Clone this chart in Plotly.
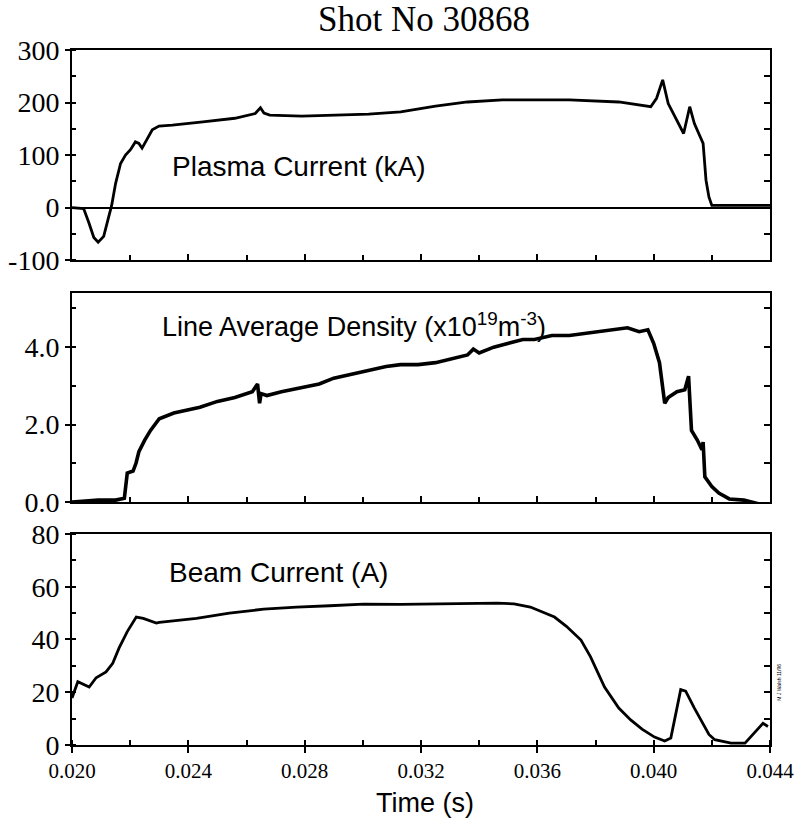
import plotly.graph_objects as go

# ---------------- data ----------------
t_ip = [0.0200, 0.0204, 0.02058, 0.02075, 0.0209, 0.02109, 0.02127, 0.02136, 0.0215, 0.02167,
        0.02184, 0.02201, 0.02218, 0.0223, 0.02241, 0.02253, 0.02276, 0.02299, 0.02345, 0.0245,
        0.0256, 0.0263, 0.02648, 0.0266, 0.0268, 0.0279, 0.0290, 0.0302, 0.0313, 0.0325,
        0.0336, 0.0348, 0.0360, 0.0371, 0.0388, 0.0399, 0.0401, 0.04031, 0.0405, 0.0408,
        0.04103, 0.04124, 0.0414, 0.0417, 0.0418, 0.0419, 0.0420, 0.0440]
ip = [0, -2, -29, -57, -66, -55, -16, 3, 46, 84,
      100, 110, 125, 122, 113, 125, 148, 155, 157, 163,
      170, 179, 190, 180, 176, 174, 176, 178, 182, 193,
      201, 205, 205, 205, 201, 192, 208, 243, 198, 165,
      141, 192, 160, 122, 52, 20, 4, 4]

t_ne = [0.0200, 0.0209, 0.0215, 0.0218, 0.0219, 0.0221, 0.0222, 0.0223, 0.0225, 0.0227,
        0.0230, 0.0235, 0.0244, 0.0250, 0.0256, 0.0262, 0.02638, 0.02645, 0.0265, 0.0267,
        0.0272, 0.0279, 0.0285, 0.0290, 0.0296, 0.0302, 0.0308, 0.0313, 0.0319, 0.0325,
        0.0330, 0.0336, 0.0338, 0.0340, 0.0345, 0.0350, 0.0355, 0.0359, 0.0365, 0.0371,
        0.0376, 0.0382, 0.0387, 0.0391, 0.0395, 0.0398, 0.0400, 0.0402, 0.04038, 0.0405,
        0.0408, 0.04107, 0.0412, 0.0413, 0.0415, 0.04166, 0.0417, 0.04176, 0.0420, 0.04224,
        0.0426, 0.0431, 0.0440]
ne = [0.0, 0.05, 0.05, 0.1, 0.75, 0.8, 1.0, 1.3, 1.6, 1.85,
      2.15, 2.3, 2.45, 2.6, 2.7, 2.85, 3.05, 2.55, 2.8, 2.75,
      2.85, 2.95, 3.05, 3.2, 3.3, 3.4, 3.5, 3.55, 3.55, 3.6,
      3.7, 3.8, 3.95, 3.85, 4.0, 4.1, 4.2, 4.2, 4.3, 4.3,
      4.35, 4.4, 4.45, 4.5, 4.4, 4.45, 4.1, 3.6, 2.55, 2.7,
      2.85, 2.9, 3.25, 1.85, 1.6, 1.35, 1.55, 0.65, 0.4, 0.23,
      0.08, 0.05, -0.12]

t_b = [0.0200, 0.0202, 0.02059, 0.02083, 0.02117, 0.0214, 0.02162, 0.0219, 0.02221, 0.02245,
       0.0229, 0.0230, 0.02428, 0.02541, 0.02659, 0.02772, 0.02886, 0.03003, 0.0313, 0.0330,
       0.03462, 0.0352, 0.03576, 0.03659, 0.0370, 0.0375, 0.03783, 0.0381, 0.03831, 0.0388,
       0.03921, 0.0396, 0.04003, 0.04038, 0.04059, 0.04093, 0.0411, 0.0414, 0.04162, 0.0419,
       0.0421, 0.04266, 0.04314, 0.04376, 0.04393]
beam = [17.8, 24, 22, 25.5, 27.7, 31, 36.8, 43, 48.5, 48,
        46.2, 46.5, 48, 50, 51.5, 52.3, 52.8, 53.4, 53.3, 53.5,
        53.8, 53.5, 52.3, 48.5, 45, 39.8, 33.4, 27, 22, 14,
        9.5, 6, 3.0, 1.5, 2.6, 21, 20.4, 14, 9.5, 4,
        2, 0.7, 0.7, 8.2, 7]

x_tickvals = [0.020, 0.024, 0.028, 0.032, 0.036, 0.040, 0.044]
x_ticktext = ["0.020", "0.024", "0.028", "0.032", "0.036", "0.040", "0.044"]
ip_tickvals = [-100, 0, 100, 200, 300]
ip_ticktext = ["-100", "0", "100", "200", "300"]
ne_tickvals = [0, 2, 4]
ne_ticktext = ["0.0", "2.0", "4.0"]
b_tickvals = [0, 20, 40, 60, 80]
b_ticktext = ["0", "20", "40", "60", "80"]

title_text = "Shot No 30868"
label_ip = "Plasma Current (kA)"
label_ne = "Line Average Density (x10<sup>19</sup>m<sup>-3</sup>)"
label_b = "Beam Current (A)"
x_title = "Time (s)"
credit = "M J Walsh 11/96"

# ---------------- figure ----------------
SERIF = "Liberation Serif, Times New Roman, serif"
SANS = "Liberation Sans, Arial, Helvetica, sans-serif"
LINE = dict(color="black", width=2.8)

fig = go.Figure()
fig.add_trace(go.Scatter(x=t_ip, y=ip, mode="lines", line=LINE, xaxis="x", yaxis="y",
                         showlegend=False))
fig.add_trace(go.Scatter(x=t_ne, y=ne, mode="lines", line=dict(color="black", width=3.6),
                         xaxis="x2", yaxis="y2", showlegend=False))
fig.add_trace(go.Scatter(x=t_b, y=beam, mode="lines", line=LINE, xaxis="x3", yaxis="y3",
                         showlegend=False))
# empty traces so the right-hand (inward tick) axes are drawn
for ya, xa in (("y4", "x"), ("y5", "x2"), ("y6", "x3")):
    fig.add_trace(go.Scatter(x=[], y=[], xaxis=xa, yaxis=ya, showlegend=False, hoverinfo="skip"))

doms = {"top": [0.6978, 1.0], "mid": [0.3496, 0.6504], "bot": [0.0, 0.3036]}

def xax(anchor, labels):
    d = dict(domain=[0, 1], range=[0.020, 0.044], anchor=anchor, automargin=False,
             showline=True, linecolor="black", linewidth=2,
             mirror=True, showgrid=False, zeroline=False,
             tickmode="array", tickvals=x_tickvals, ticklen=6, tickwidth=2, tickcolor="black",
             minor=dict(dtick=0.002, tick0=0.020, ticks="inside", ticklen=5, tickwidth=2,
                        tickcolor="black"))
    if labels:
        d.update(ticks="outside", ticktext=x_ticktext, showticklabels=True,
                 tickfont=dict(family=SERIF, size=21, color="black"))
    else:
        d.update(ticks="inside", showticklabels=False)
    return d

def yax(anchor, dom, rng, tv, tt, minor_dt, zl=False):
    return dict(domain=dom, range=rng, anchor=anchor, automargin=False,
                showline=True, linecolor="black", linewidth=2,
                mirror=True, showgrid=False, zeroline=zl, zerolinecolor="black", zerolinewidth=2,
                tickmode="array", tickvals=tv, ticktext=tt, ticks="outside", ticklen=5, tickwidth=2,
                tickcolor="black", tickfont=dict(family=SERIF, size=28, color="black"),
                minor=dict(dtick=minor_dt, tick0=0, ticks="inside", ticklen=4, tickwidth=1.5,
                           tickcolor="black"))

def yright(over, anchor, rng, dt):
    return dict(overlaying=over, anchor=anchor, side="right", range=rng, automargin=False,
                showline=False, showgrid=False, zeroline=False, showticklabels=False,
                ticks="inside", ticklen=6, tickwidth=2, tickcolor="black",
                tickmode="linear", dtick=dt, tick0=0)

fig.update_layout(
    width=797, height=823,
    margin=dict(l=72, r=27, t=50, b=78),
    paper_bgcolor="white", plot_bgcolor="white",
    xaxis=xax("y", False),
    xaxis2=xax("y2", False),
    xaxis3=xax("y3", True),
    yaxis=yax("x", doms["top"], [-100, 300], ip_tickvals, ip_ticktext, 50, zl=True),
    yaxis2=yax("x2", doms["mid"], [0, 5.4], ne_tickvals, ne_ticktext, 1),
    yaxis3=yax("x3", doms["bot"], [0, 80], b_tickvals, b_ticktext, 10),
    yaxis4=yright("y", "x", [-100, 300], 50),
    yaxis5=yright("y2", "x2", [0, 5.4], 1),
    yaxis6=yright("y3", "x3", [0, 80], 10),
)

ann = [
    dict(text=title_text, x=0.5036, y=1.0432, xref="paper", yref="paper", xanchor="center",
         yanchor="middle", showarrow=False, font=dict(family=SERIF, size=35, color="black")),
    dict(text=label_ip, x=0.1404, y=0.8317, xref="paper", yref="paper", xanchor="left",
         yanchor="middle", showarrow=False, font=dict(family=SANS, size=28, color="black")),
    dict(text=label_ne, x=0.126, y=0.6043, xref="paper", yref="paper", xanchor="left",
         yanchor="middle", showarrow=False, font=dict(family=SANS, size=27, color="black")),
    dict(text=label_b, x=0.136, y=0.2475, xref="paper", yref="paper", xanchor="left",
         yanchor="middle", showarrow=False, font=dict(family=SANS, size=28, color="black")),
    dict(text=x_title, x=0.5057, y=-0.0835, xref="paper", yref="paper", xanchor="center",
         yanchor="middle", showarrow=False, font=dict(family=SANS, size=27, color="black")),
    dict(text=credit, x=1.006, y=0.09, xref="paper", yref="paper", xanchor="left",
         yanchor="middle", showarrow=False, textangle=-90,
         font=dict(family=SANS, size=5, color="black")),
]
fig.update_layout(annotations=ann)

# remove the default 8 px page margin so the figure fills the 797x823 window exactly
fig.write_html("out.html",
               config={"displayModeBar": False},
               post_script="document.body.style.margin='0';document.body.style.overflow='hidden';")
